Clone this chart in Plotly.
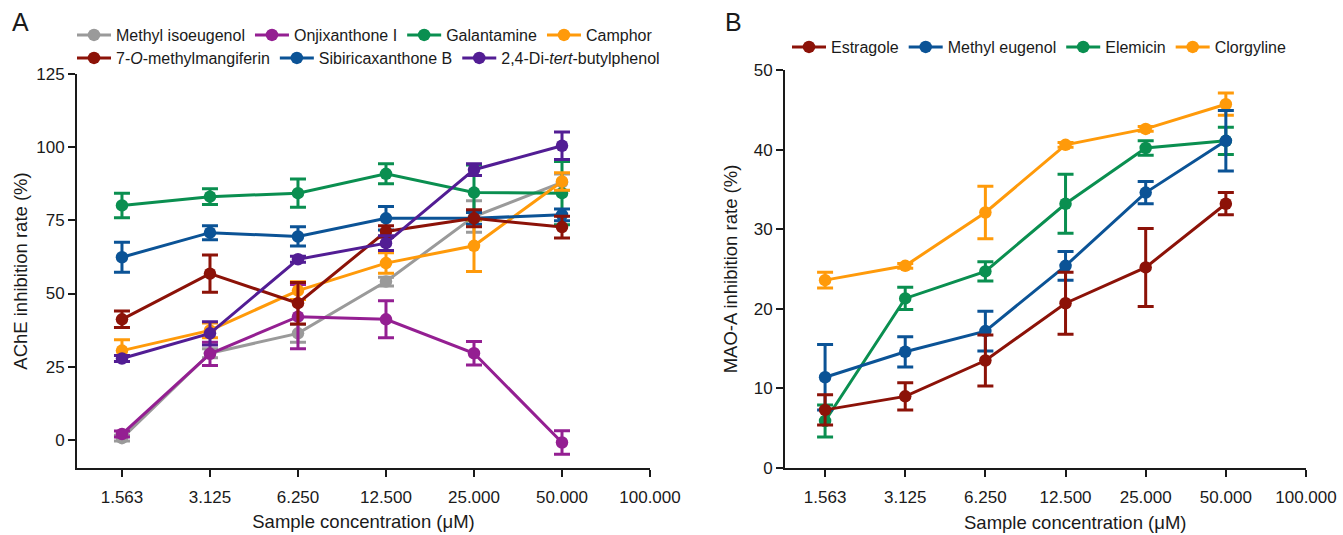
import math
import plotly.graph_objects as go

W, H = 1343, 535

# ---------------- data ----------------
conc = [1.5625, 3.125, 6.25, 12.5, 25, 50]
tick_vals = [1.5625, 3.125, 6.25, 12.5, 25, 50, 100]
tick_text = ["1.563", "3.125", "6.250", "12.500", "25.000", "50.000", "100.000"]

# Panel A: AChE inhibition rate (%)
methyl_isoeugenol = [0.6, 29.6, 36.4, 54.1, 76.3, 88.0]
methyl_isoeugenol_err = [1.0, 1.5, 3.0, 1.5, 5.4, 2.8]
onjixanthone_i = [2.0, 29.4, 42.1, 41.2, 29.6, -0.9]
onjixanthone_i_err = [1.0, 4.0, 11.0, 6.3, 4.0, 4.0]
galantamine = [80.1, 83.1, 84.3, 90.9, 84.5, 84.3]
galantamine_err = [4.2, 2.7, 4.8, 3.4, 9.4, 10.8]
camphor = [30.5, 37.4, 51.0, 60.4, 66.3, 88.3]
camphor_err = [3.7, 2.5, 3.0, 3.5, 8.8, 3.0]
methylmangiferin = [41.2, 56.8, 46.7, 71.2, 75.7, 72.7]
methylmangiferin_err = [2.8, 6.4, 7.1, 2.0, 2.9, 3.7]
sibiricaxanthone_b = [62.4, 70.8, 69.5, 75.7, 75.7, 76.9]
sibiricaxanthone_b_err = [5.1, 2.4, 3.3, 4.0, 2.0, 2.0]
butylphenol = [27.8, 36.4, 61.7, 67.2, 92.3, 100.5]
butylphenol_err = [1.0, 4.0, 1.0, 2.5, 2.0, 4.7]

# Panel B: MAO-A inhibition rate (%)
estragole = [7.3, 9.0, 13.5, 20.7, 25.2, 33.2]
estragole_err = [1.9, 1.7, 3.2, 3.9, 4.9, 1.4]
methyl_eugenol = [11.4, 14.6, 17.2, 25.4, 34.6, 41.1]
methyl_eugenol_err = [4.1, 1.9, 2.5, 1.8, 1.4, 3.8]
elemicin = [5.9, 21.3, 24.7, 33.2, 40.2, 41.1]
elemicin_err = [2.0, 1.4, 1.2, 3.7, 0.9, 1.7]
clorgyline = [23.6, 25.4, 32.1, 40.6, 42.6, 45.7]
clorgyline_err = [1.0, 0.3, 3.3, 0.3, 0.3, 1.4]

x_title = "Sample concentration (μM)"

# ---------------- colours ----------------
GRAY = "#9a9a9a"
MAGENTA = "#941f92"
GREEN = "#0a8f50"
ORANGE = "#ff9a0a"
DARKRED = "#8c1208"
BLUE = "#0b5396"
INDIGO = "#521d94"
AXIS = "#1a1a1a"
FONT = "Arial, Liberation Sans, Helvetica, sans-serif"

fig = go.Figure()


def add(name, y, err, color, xa, ya, legend, rank):
    fig.add_trace(go.Scatter(
        x=conc, y=y, name=name, mode="lines+markers",
        line=dict(color=color, width=3),
        marker=dict(color=color, size=12.5),
        error_y=dict(type="data", array=err, visible=True, color=color,
                     thickness=3, width=8),
        xaxis=xa, yaxis=ya, legend=legend, legendrank=rank,
    ))


# Panel A
add("Methyl isoeugenol", methyl_isoeugenol, methyl_isoeugenol_err, GRAY, "x", "y", "legend", 1)
add("Onjixanthone I", onjixanthone_i, onjixanthone_i_err, MAGENTA, "x", "y", "legend", 2)
add("Galantamine", galantamine, galantamine_err, GREEN, "x", "y", "legend", 3)
add("Camphor", camphor, camphor_err, ORANGE, "x", "y", "legend", 4)
add("Sibiricaxanthone B", sibiricaxanthone_b, sibiricaxanthone_b_err, BLUE, "x", "y", "legend2", 6)
add("7-<i>O</i>-methylmangiferin", methylmangiferin, methylmangiferin_err, DARKRED, "x", "y", "legend2", 5)
add("2,4-Di-<i>tert</i>-butylphenol", butylphenol, butylphenol_err, INDIGO, "x", "y", "legend2", 7)

# Panel B
add("Clorgyline", clorgyline, clorgyline_err, ORANGE, "x2", "y2", "legend3", 4)
add("Elemicin", elemicin, elemicin_err, GREEN, "x2", "y2", "legend3", 3)
add("Methyl eugenol", methyl_eugenol, methyl_eugenol_err, BLUE, "x2", "y2", "legend3", 2)
add("Estragole", estragole, estragole_err, DARKRED, "x2", "y2", "legend3", 1)

lstep = math.log10(2)
l0 = math.log10(tick_vals[0])

TITLE_FONT = dict(size=18.5, color=AXIS, family=FONT)

common = dict(showline=True, linecolor=AXIS, linewidth=2, ticks="outside",
              ticklen=7, tickwidth=2, tickcolor=AXIS, showgrid=False,
              zeroline=False, automargin=False,
              tickfont=dict(size=17, color=AXIS, family=FONT))

xcommon = dict(common, type="log", tickvals=tick_vals, ticktext=tick_text,
               ticklabelstandoff=6)

legfont = dict(size=16, family=FONT, color=AXIS)

fig.update_layout(
    width=W, height=H,
    margin=dict(l=0, r=0, t=0, b=0),
    paper_bgcolor="white", plot_bgcolor="white",
    font=dict(family=FONT, color=AXIS),
    showlegend=True,
    xaxis=dict(xcommon, domain=[77 / W, 650 / W],
               range=[l0 - 0.511 * lstep, 2.0], anchor="y",
               title=dict(text=x_title, font=TITLE_FONT, standoff=9)),
    yaxis=dict(common, domain=[1 - 468 / H, 1 - 74 / H], range=[-9.6, 125],
               tickvals=[0, 25, 50, 75, 100, 125], anchor="x",
               title=dict(text="AChE inhibition rate (%)", font=TITLE_FONT, standoff=4)),
    xaxis2=dict(xcommon, domain=[785 / W, 1306 / W],
                range=[l0 - 0.5 * lstep, 2.0], anchor="y2"),
    yaxis2=dict(common, domain=[1 - 468 / H, 1 - 70 / H], range=[0, 50],
                tickvals=[0, 10, 20, 30, 40, 50], anchor="x2",
                title=dict(text="MAO-A inhibition rate (%)", font=TITLE_FONT, standoff=11)),
    legend=dict(orientation="h", x=72 / W, y=1 - 35 / H, xanchor="left", yanchor="middle",
                font=legfont, bgcolor="rgba(0,0,0,0)", itemwidth=34,
                traceorder="normal"),
    legend2=dict(orientation="h", x=72 / W, y=1 - 58 / H, xanchor="left", yanchor="middle",
                 font=legfont, bgcolor="rgba(0,0,0,0)", itemwidth=34,
                 traceorder="normal"),
    legend3=dict(orientation="h", x=787 / W, y=1 - 47 / H, xanchor="left", yanchor="middle",
                 font=legfont, bgcolor="rgba(0,0,0,0)", itemwidth=34,
                 traceorder="normal"),
    annotations=[
        dict(text="A", x=20 / W, y=1 - 22 / H, xref="paper", yref="paper",
             xanchor="center", yanchor="middle",
             showarrow=False, font=dict(size=25, family=FONT, color=AXIS)),
        dict(text="B", x=733 / W, y=1 - 22 / H, xref="paper", yref="paper",
             xanchor="center", yanchor="middle",
             showarrow=False, font=dict(size=25, family=FONT, color=AXIS)),
        dict(text=x_title, x=1075 / W, y=1 - 522 / H, xref="paper", yref="paper",
             xanchor="center", yanchor="middle",
             showarrow=False, font=TITLE_FONT),
    ],
)

fig.write_html("out.html", config={"displayModeBar": False},
               post_script="document.body.style.margin='0px';document.body.style.overflow='hidden';")
